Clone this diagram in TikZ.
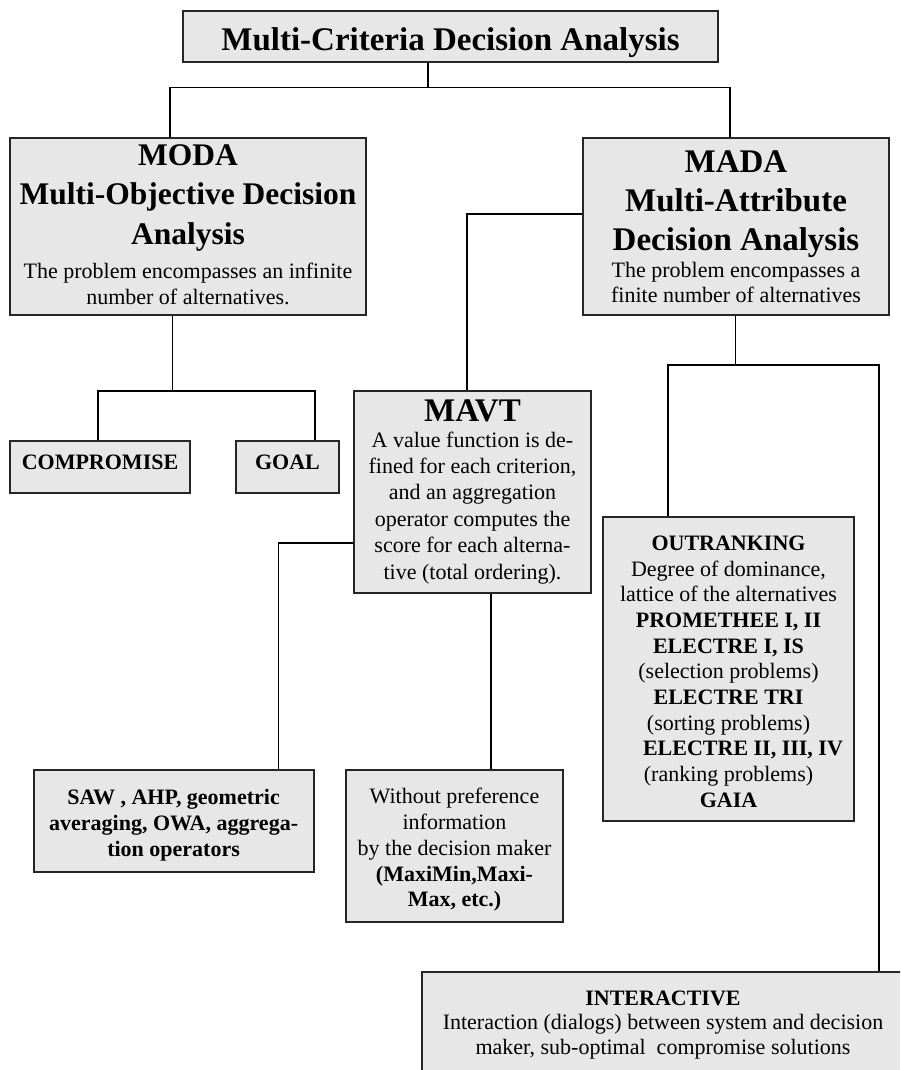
\documentclass[tikz,border=0pt]{standalone}
\usepackage{fontspec}
\setmainfont{Liberation Serif}
\newcommand{\fsz}[1]{\fontsize{#1}{0}\selectfont}
\newcommand{\hstrut}[1]{\rule{0pt}{#1}}
\newcommand{\dstrut}[1]{\rule[-#1]{0pt}{#1}}
\definecolor{boxfill}{HTML}{E7E7E7}
\definecolor{boxline}{HTML}{262626}
\tikzset{
  box/.style={draw=boxline, line width=2pt, fill=boxfill, align=center, inner sep=0pt,
    font={\fsz{22}\lineskiplimit=-1000pt\lineskip=0pt}},
  conn/.style={draw=black, line width=1.5pt},
  hd/.style={}
}
\begin{document}
\begin{tikzpicture}[x=1pt,y=-1pt]
\path[use as bounding box, fill=white] (0,0) rectangle (900,1070);
\clip (0,0) rectangle (900,1070);

\node[box, minimum width=535pt, minimum height=51.3pt] (title) at (450.5,36.6)
  {\hstrut{34pt}\bfseries\fsz{33}Multi-Criteria Decision Analysis};

\node[box, minimum width=356pt, minimum height=177pt] (moda) at (188,226.5)
  {{\bfseries\fsz{31.5}MODA}\\[39pt]
   {\bfseries\fsz{31.5}Multi-Objective Decision}\\[40pt]
   {\bfseries\fsz{31.5}Analysis}\\[34pt]
   The problem encompasses an infinite\\[25.5pt]
   number of alternatives.\dstrut{4pt}};

\node[box, minimum width=306pt, minimum height=177pt] (mada) at (736,226.5)
  {{\bfseries\fsz{33}MADA}\\[39.4pt]
   {\bfseries\fsz{33}Multi-Attribute}\\[39pt]
   {\bfseries\fsz{33}Decision Analysis}\\[26.6pt]
   The problem encompasses a\\[25pt]
   finite number of alternatives};

\node[box, minimum width=180pt, minimum height=51.7pt] (comp) at (100,466.8)
  {\bfseries COMPROMISE\dstrut{8.6pt}};

\node[box, minimum width=103pt, minimum height=51.7pt] (goal) at (287.5,466.8)
  {\bfseries GOAL\dstrut{8.6pt}};

\node[box, minimum width=237pt, minimum height=202pt] (mavt) at (472.5,492)
  {{\bfseries\fsz{33}MAVT}\\[25.6pt]
   A value function is de-\\[26pt]
   fined for each criterion,\\[26.4pt]
   and an aggregation\\[26.6pt]
   operator computes the\\[26pt]
   score for each alterna-\\[26.7pt]
   tive (total ordering).};

\node[box, minimum width=251pt, minimum height=304pt] (outr) at (728.5,669)
  {\hstrut{20pt}\bfseries OUTRANKING\\[25.65pt]
   Degree of dominance,\\[25.65pt]
   lattice of the alternatives\\[25.65pt]
   \bfseries PROMETHEE I, II\\[25.65pt]
   \bfseries ELECTRE I, IS\\[25.65pt]
   (selection problems)\\[25.65pt]
   \bfseries ELECTRE TRI\\[25.65pt]
   (sorting problems)\\[25.65pt]
   \hspace*{29pt}\bfseries ELECTRE II, III, IV\\[25.65pt]
   (ranking problems)\\[25.65pt]
   \bfseries GAIA};

\node[box, minimum width=280pt, minimum height=101.7pt] (saw) at (173.6,820.9)
  {\hstrut{23pt}\bfseries SAW , AHP, geometric\\[26pt]
   \bfseries averaging, OWA, aggrega-\\[26pt]
   \bfseries tion operators};

\node[box, minimum width=217pt, minimum height=152pt] (without) at (454.5,846)
  {\hstrut{23pt}Without preference\\[26pt]
   information\\[26pt]
   by the decision maker\\[25.7pt]
   \bfseries (MaxiMin,Maxi-\\[25.3pt]
   \bfseries Max, etc.)};

\node[box, minimum width=482pt, minimum height=104.6pt] (inter) at (663,1024.6)
  {\bfseries INTERACTIVE\\[24.5pt]
   Interaction (dialogs) between system and decision\\[24.5pt]
   maker, sub-optimal\ \ compromise solutions};

% connectors
\coordinate (tb) at (428,87.5);
\coordinate (cl) at (170,87.5);
\coordinate (cr) at (730,87.5);
\draw[conn] (title.south -| tb) -- (tb);
\draw[conn] (moda.north -| cl) -- (cl) -- (cr) -- (mada.north -| cr);

\coordinate (ma) at (467,214);
\draw[conn] (mada.west |- ma) -- (ma) -- (mavt.north -| ma);

\coordinate (mb) at (172.7,391);
\coordinate (gl) at (98,391);
\coordinate (gr) at (315,391);
\draw[conn] (moda.south -| mb) -- (mb);
\draw[conn] (comp.north -| gl) -- (gl) -- (gr) -- (goal.north -| gr);

\coordinate (mc) at (735.7,365);
\coordinate (ol) at (668,365);
\coordinate (or) at (879,365);
\draw[conn] (mada.south -| mc) -- (mc);
\draw[conn] (outr.north -| ol) -- (ol) -- (or) -- (inter.north -| or);

\coordinate (sa) at (278.5,543);
\draw[conn] (mavt.west |- sa) -- (sa) -- (saw.north -| sa);

\coordinate (wa) at (491,680);
\draw[conn] (mavt.south -| wa) -- (without.north -| wa);
\end{tikzpicture}
\end{document}
